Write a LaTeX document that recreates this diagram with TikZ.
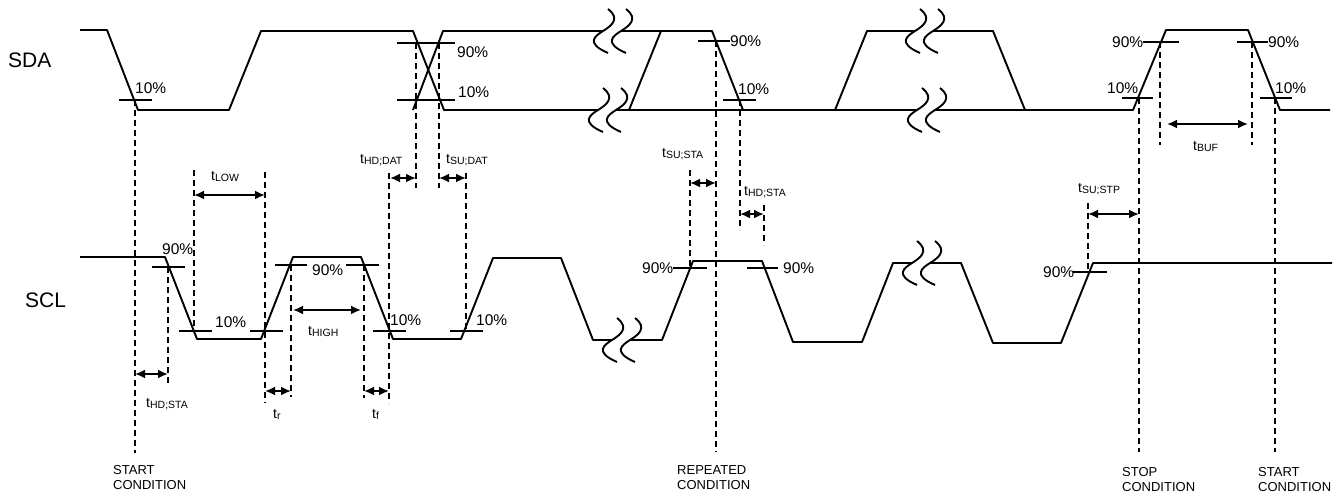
\documentclass[tikz,border=0pt]{standalone}
\usepackage{fontspec}
\setmainfont{Liberation Sans}
\usetikzlibrary{arrows.meta}
\newcommand\tsb[1]{t\raisebox{-1.5pt}{\fontsize{10.5pt}{11pt}\selectfont #1}}
\begin{document}
\begin{tikzpicture}[x=1pt,y=-1pt,
  sig/.style={line width=1.9pt,line join=round},
  tk/.style={line width=1.9pt},
  dl/.style={line width=1.8pt,dash pattern=on 6pt off 4pt},
  dim/.style={line width=1.9pt,{Latex[length=10pt,width=9pt]}-{Latex[length=10pt,width=9pt]}},
  pct/.style={font=\fontsize{15.5pt}{16pt}\selectfont,inner sep=0pt,anchor=west},
  tl/.style={font=\fontsize{14pt}{15pt}\selectfont,inner sep=0pt,anchor=base west},
  big/.style={font=\fontsize{21pt}{23pt}\selectfont,inner sep=0pt,anchor=west},
  cond/.style={font=\fontsize{13pt}{15pt}\selectfont,inner sep=0pt,anchor=north west,align=left},
  brk/.pic={
    \draw[sig] (5,-22) .. controls (18,-12) and (8,-5) .. (0,0) .. controls (-8,5) and (-18,12) .. (5,22);
    \draw[sig] (23,-22) .. controls (36,-12) and (26,-5) .. (18,0) .. controls (10,5) and (0,12) .. (23,22);
  }]
\fill[white] (0,0) rectangle (1343,493);
\useasboundingbox (0,0) rectangle (1343,493);

% signal names
\node[big] (sda) at (8,60) {SDA};
\node[big] (scl) at (25,300) {SCL};

% SDA waveform
\draw[sig] (80,30)--(107,30)--(138,110)--(229,110)--(261,31)--(413,31)--(444,110)--(598,110);
\draw[sig] (413,110)--(443,31)--(603,31);
\draw[sig] (621,31)--(712,31)--(743,110);
\draw[sig] (616,110)--(917,110);
\draw[sig] (629,110)--(661,31);
\draw[sig] (835,110)--(867,31)--(915,31);
\draw[sig] (933,31)--(993,31)--(1025,110);
\draw[sig] (935,110)--(1133,110)--(1166,30)--(1248,30)--(1280,110)--(1330,110);
\pic at (603,31) {brk};
\pic at (598,110) {brk};
\pic at (915,31) {brk};
\pic at (917,110) {brk};

% SCL waveform
\draw[sig] (80,257)--(165,257)--(197,339)--(261,339)--(293,257)--(361,257)--(393,339)--(461,339)--(493,258)--(561,258)--(593,340)--(612,340);
\draw[sig] (630,340)--(662,340)--(693,261)--(762,261)--(793,342)--(862,342)--(893,263)--(912,263);
\draw[sig] (930,263)--(961,263)--(993,343)--(1061,343)--(1093,263)--(1332,263);
\pic at (612,340) {brk};
\pic at (912,263) {brk};

% level ticks SDA
\draw[tk] (119,100)--(152,100);
\draw[tk] (397,43)--(455,43);
\draw[tk] (397,100)--(455,100);
\draw[tk] (698,41)--(730,41);
\draw[tk] (723,100)--(756,100);
\draw[tk] (1143,42)--(1179,42);
\draw[tk] (1237,42)--(1268,42);
\draw[tk] (1122,98)--(1153,98);
\draw[tk] (1260,98)--(1292,98);
% level ticks SCL
\draw[tk] (152,267)--(185,267);
\draw[tk] (179,331)--(212,331);
\draw[tk] (250,331)--(283,331);
\draw[tk] (275,265)--(307,265);
\draw[tk] (346,265)--(379,265);
\draw[tk] (373,331)--(406,331);
\draw[tk] (450,331)--(483,331);
\draw[tk] (673,268)--(707,268);
\draw[tk] (747,268)--(778,268);
\draw[tk] (1073,272)--(1107,272);

% percent labels
\node[pct] (p1) at (135,88) {10\%};
\node[pct] (p2) at (457,52) {90\%};
\node[pct] (p3) at (458,92) {10\%};
\node[pct] (p4) at (730,41) {90\%};
\node[pct] (p5) at (738,89) {10\%};
\node[pct] (p6) at (1112,42) {90\%};
\node[pct] (p7) at (1268,42) {90\%};
\node[pct] (p8) at (1107,88) {10\%};
\node[pct] (p9) at (1275,88) {10\%};
\node[pct] (p10) at (162,249) {90\%};
\node[pct] (p11) at (215,322) {10\%};
\node[pct] (p12) at (312,270) {90\%};
\node[pct] (p13) at (390,320) {10\%};
\node[pct] (p14) at (476,320) {10\%};
\node[pct] (p15) at (642,268) {90\%};
\node[pct] (p16) at (783,268) {90\%};
\node[pct] (p17) at (1043,272) {90\%};

% dashed reference lines
\draw[dl] (135,100)--(135,453);
\draw[dl] (168,267)--(168,385);
\draw[dl] (194,170)--(194,331);
\draw[dl] (265,172)--(265,403);
\draw[dl] (291,265)--(291,397);
\draw[dl] (364,265)--(364,398);
\draw[dl] (389,173)--(389,403);
\draw[dl] (416,43)--(416,188);
\draw[dl] (439,43)--(439,188);
\draw[dl] (466,173)--(466,331);
\draw[dl] (716,41)--(716,452);
\draw[dl] (740,100)--(740,230);
\draw[dl] (690,170)--(690,268);
\draw[dl] (764,205)--(764,245);
\draw[dl] (1088,203)--(1088,272);
\draw[dl] (1139,98)--(1139,452);
\draw[dl] (1160,42)--(1160,145);
\draw[dl] (1252,42)--(1252,145);
\draw[dl] (1275,98)--(1275,452);

% timing arrows
\draw[dim] (135,374)--(168,374);
\draw[dim] (194,195)--(265,195);
\draw[dim] (265,391)--(291,391);
\draw[dim] (293,310)--(361,310);
\draw[dim] (364,391)--(389,391);
\draw[dim] (390,178)--(416,178);
\draw[dim] (439,178)--(466,178);
\draw[dim] (690,183)--(716,183);
\draw[dim] (740,214)--(764,214);
\draw[dim] (1167,124)--(1248,124);
\draw[dim] (1088,214)--(1139,214);

% timing labels
\node[tl] (t1) at (146,407) {\tsb{HD;STA}};
\node[tl] (t2) at (211,180) {\tsb{LOW}};
\node[tl] (t3) at (273,418) {\tsb{r}};
\node[tl] (t4) at (308,335) {\tsb{HIGH}};
\node[tl] (t5) at (372,418) {\tsb{f}};
\node[tl] (t6) at (360,163) {\tsb{HD;DAT}};
\node[tl] (t7) at (446,163) {\tsb{SU;DAT}};
\node[tl] (t8) at (662,157) {\tsb{SU;STA}};
\node[tl] (t9) at (744,195) {\tsb{HD;STA}};
\node[tl] (t10) at (1193,150) {\tsb{BUF}};
\node[tl] (t11) at (1078,192) {\tsb{SU;STP}};

% condition labels
\node[cond] (c1) at (113,465) {START\\CONDITION};
\node[cond] (c2) at (677,465) {REPEATED\\CONDITION};
\node[cond] (c3) at (1122,467) {STOP\\CONDITION};
\node[cond] (c4) at (1258,467) {START\\CONDITION};
\end{tikzpicture}
\end{document}
